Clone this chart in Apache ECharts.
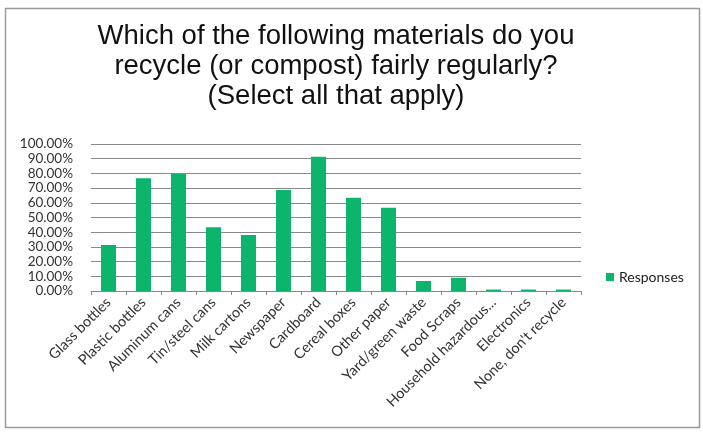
<!DOCTYPE html>
<html><head><meta charset="utf-8">
<script src="https://cdn.jsdelivr.net/npm/echarts@6/dist/echarts.min.js"></script>
<style>html,body{margin:0;padding:0;background:#fff}#c{width:703px;height:434px}</style>
</head><body><div id="c"></div>
<script>
const categories = ["Glass bottles","Plastic bottles","Aluminum cans","Tin/steel cans","Milk cartons","Newspaper","Cardboard","Cereal boxes","Other paper","Yard/green waste","Food Scraps","Household hazardous...","Electronics","None, don't recycle"];
const responses = [31.3, 76.7, 79.6, 43.3, 38.1, 68.7, 91.4, 63.5, 56.7, 6.8, 9.0, 1.0, 1.0, 1.0];
const seriesName = "Responses";
const titleText = "Which of the following materials do you\nrecycle (or compost) fairly regularly?\n(Select all that apply)";

const chart = echarts.init(document.getElementById('c'), null, {renderer:'canvas'});
chart.setOption({
  animation:false,
  backgroundColor:'#fff',
  graphic:[{type:'rect', shape:{x:5.5,y:8.5,width:694,height:419}, style:{fill:'none',stroke:'#9a9a9a',lineWidth:1.5}, silent:true}],
  title:{text:titleText, left:336, textAlign:'center', top:21, padding:0,
    textStyle:{fontFamily:'Liberation Sans', fontSize:27.5, fontWeight:'normal', color:'#111', lineHeight:30}},
  legend:{data:[seriesName], left:606, top:270, padding:0, itemWidth:8, itemHeight:8, itemGap:6, icon:'rect',
    textStyle:{fontFamily:'Lato', fontSize:14, color:'#222'}},
  grid:{left:91, right:122, top:144, bottom:143, containLabel:false},
  xAxis:{type:'category', data:categories,
    axisLine:{lineStyle:{color:'#888'}},
    axisTick:{show:true, interval:0, length:4, lineStyle:{color:'#888'}},
    axisLabel:{interval:0, rotate:45, fontFamily:'Lato', fontSize:14.5, color:'#333', margin:9}},
  yAxis:{type:'value', min:0, max:100, interval:10,
    axisLine:{show:false}, axisTick:{show:false},
    splitLine:{lineStyle:{color:'#8a8a8a', width:1}},
    axisLabel:{formatter:v=>v.toFixed(2)+'%', fontFamily:'Lato', fontSize:13.5, color:'#333', margin:18}},
  series:[{name:seriesName, type:'bar', data:responses, barWidth:'43%',
    itemStyle:{color:'#0db56c'}}]
});
</script></body></html>
